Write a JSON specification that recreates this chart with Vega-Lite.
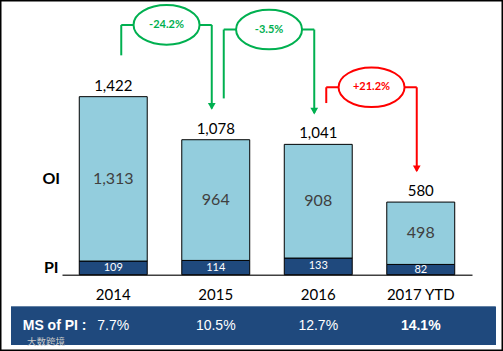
{
  "$schema": "https://vega.github.io/schema/vega-lite/v6.json",
  "width": 503,
  "height": 351,
  "autosize": "none",
  "padding": 0,
  "background": "white",
  "config": {"view": {"stroke": "#000000", "strokeWidth": 3}, "font": "Lato"},
  "title": {"text": "大数跨境", "orient": "bottom", "anchor": "start", "offset": -14, "dx": 27, "font": "Noto Sans CJK SC", "fontSize": 9.5, "fontWeight": "normal", "color": "#c8c8c8"},
  "datasets": {
    "years": [
      {"year": "2014", "PI": 109, "OI": 1313, "total": 1422, "ms": 0.077},
      {"year": "2015", "PI": 114, "OI": 964, "total": 1078, "ms": 0.105},
      {"year": "2016", "PI": 133, "OI": 908, "total": 1041, "ms": 0.127},
      {"year": "2017 YTD", "PI": 82, "OI": 498, "total": 580, "ms": 0.141}
    ],
    "changes": [
      {"from": "2014", "to": "2015", "change": "-24.2%"},
      {"from": "2015", "to": "2016", "change": "-3.5%"},
      {"from": "2016", "to": "2017 YTD", "change": "+21.2%"}
    ]
  },
  "layer": [
    {
      "data": {"name": "years"},
      "transform": [
        {"fold": ["PI", "OI"], "as": ["series", "value"]},
        {"calculate": "datum.series === 'PI' ? 0 : 1", "as": "ord"},
        {"stack": "value", "groupby": ["year"], "sort": [{"field": "ord", "order": "ascending"}], "as": ["v0", "v1"]},
        {"calculate": "(datum.v0 + datum.v1) / 2", "as": "mid"}
      ],
      "encoding": {
        "x": {"field": "year", "type": "nominal", "scale": {"range": [62, 472], "paddingInner": 0.337, "paddingOuter": 0.1685},
          "axis": {"orient": "bottom", "offset": -76.3, "title": null, "ticks": false, "domainColor": "#404040", "domainWidth": 1.5, "labelFont": "Lato", "labelFontSize": 15, "labelColor": "#000000", "labelPadding": 13, "labelAngle": 0}}
      },
      "layer": [
        {
          "mark": {"type": "bar", "stroke": "#000000", "strokeWidth": 1},
          "encoding": {
            "y": {"field": "v1", "type": "quantitative", "scale": {"domain": [0, 2194], "range": [274.7, 0], "nice": false, "zero": false}, "axis": null},
            "y2": {"field": "v0"},
            "color": {"field": "series", "type": "nominal", "scale": {"domain": ["PI", "OI"], "range": ["#1F497D", "#93CDDD"]}, "legend": null}
          }
        },
        {
          "transform": [{"filter": "datum.series === 'OI'"}],
          "mark": {"type": "text", "fontSize": 16, "color": "#404040"},
          "encoding": {
            "y": {"field": "mid", "type": "quantitative", "scale": {"domain": [0, 2194], "range": [274.7, 0], "nice": false, "zero": false}, "axis": null},
            "text": {"field": "value", "type": "quantitative", "format": ","}
          }
        },
        {
          "transform": [{"filter": "datum.series === 'PI'"}],
          "mark": {"type": "text", "fontSize": 11, "color": "#ffffff"},
          "encoding": {
            "y": {"field": "mid", "type": "quantitative", "scale": {"domain": [0, 2194], "range": [274.7, 0], "nice": false, "zero": false}, "axis": null},
            "text": {"field": "value", "type": "quantitative", "format": ","}
          }
        },
        {
          "transform": [{"filter": "datum.series === 'OI'"}],
          "mark": {"type": "text", "fontSize": 15, "color": "#000000", "baseline": "bottom", "dy": -3},
          "encoding": {
            "y": {"field": "v1", "type": "quantitative", "scale": {"domain": [0, 2194], "range": [274.7, 0], "nice": false, "zero": false}, "axis": null},
            "text": {"field": "total", "type": "quantitative", "format": ","}
          }
        },
        {
          "transform": [{"filter": "datum.year === '2014'"}],
          "mark": {"type": "text", "fontSize": 16, "fontWeight": "bold", "color": "#000000", "dx": -62},
          "encoding": {
            "y": {"field": "mid", "type": "quantitative", "scale": {"domain": [0, 2194], "range": [274.7, 0], "nice": false, "zero": false}, "axis": null},
            "text": {"field": "series"}
          }
        }
      ]
    },
    {
      "data": {"name": "changes"},
      "transform": [
        {"lookup": "from", "from": {"data": {"name": "years"}, "key": "year", "fields": ["total"]}, "as": ["t_from"]},
        {"lookup": "to", "from": {"data": {"name": "years"}, "key": "year", "fields": ["total"]}, "as": ["t_to"]},
        {"calculate": "datum.t_from + 330", "as": "y_start"},
        {"calculate": "datum.t_to + 917", "as": "level"},
        {"calculate": "datum.t_to + 250", "as": "y_end"},
        {"calculate": "indexof(datum.change, '+') === 0 ? 'rise' : 'fall'", "as": "dir"}
      ],
      "encoding": {
        "color": {"field": "dir", "type": "nominal", "scale": {"domain": ["fall", "rise"], "range": ["#00B050", "#FF0000"]}, "legend": null}
      },
      "layer": [
        {
          "mark": {"type": "rule", "strokeWidth": 2, "xOffset": 8},
          "encoding": {
            "x": {"field": "from", "type": "nominal", "scale": {"domain": ["2014", "2015", "2016", "2017 YTD"], "range": [62, 472], "paddingInner": 0.337, "paddingOuter": 0.1685}, "axis": null},
            "y": {"field": "y_start", "type": "quantitative", "scale": {"domain": [0, 2194], "range": [274.7, 0], "nice": false, "zero": false}, "axis": null},
            "y2": {"field": "level"}
          }
        },
        {
          "mark": {"type": "rule", "strokeWidth": 2, "xOffset": 8, "x2Offset": -4},
          "encoding": {
            "x": {"field": "from", "type": "nominal", "scale": {"domain": ["2014", "2015", "2016", "2017 YTD"], "range": [62, 472], "paddingInner": 0.337, "paddingOuter": 0.1685}, "axis": null},
            "x2": {"field": "to"},
            "y": {"field": "level", "type": "quantitative", "scale": {"domain": [0, 2194], "range": [274.7, 0], "nice": false, "zero": false}, "axis": null}
          }
        },
        {
          "mark": {"type": "rule", "strokeWidth": 2, "xOffset": -4},
          "encoding": {
            "x": {"field": "to", "type": "nominal", "scale": {"domain": ["2014", "2015", "2016", "2017 YTD"], "range": [62, 472], "paddingInner": 0.337, "paddingOuter": 0.1685}, "axis": null},
            "y": {"field": "level", "type": "quantitative", "scale": {"domain": [0, 2194], "range": [274.7, 0], "nice": false, "zero": false}, "axis": null},
            "y2": {"field": "y_end"}
          }
        },
        {
          "mark": {"type": "point", "shape": "triangle-down", "filled": true, "size": 60, "opacity": 1, "xOffset": -4, "yOffset": -2},
          "encoding": {
            "x": {"field": "to", "type": "nominal", "scale": {"domain": ["2014", "2015", "2016", "2017 YTD"], "range": [62, 472], "paddingInner": 0.337, "paddingOuter": 0.1685}, "axis": null},
            "y": {"field": "y_end", "type": "quantitative", "scale": {"domain": [0, 2194], "range": [274.7, 0], "nice": false, "zero": false}, "axis": null}
          }
        },
        {
          "mark": {"type": "point", "shape": "M-1,0A1,0.6,0,1,0,1,0A1,0.6,0,1,0,-1,0Z", "size": 4356, "filled": false, "fill": "#ffffff", "strokeWidth": 2, "opacity": 1, "xOffset": 53.3},
          "encoding": {
            "x": {"field": "from", "type": "nominal", "scale": {"domain": ["2014", "2015", "2016", "2017 YTD"], "range": [62, 472], "paddingInner": 0.337, "paddingOuter": 0.1685}, "axis": null},
            "y": {"field": "level", "type": "quantitative", "scale": {"domain": [0, 2194], "range": [274.7, 0], "nice": false, "zero": false}, "axis": null}
          }
        },
        {
          "mark": {"type": "text", "fontSize": 11, "fontWeight": "bold", "xOffset": 53.3},
          "encoding": {
            "x": {"field": "from", "type": "nominal", "scale": {"domain": ["2014", "2015", "2016", "2017 YTD"], "range": [62, 472], "paddingInner": 0.337, "paddingOuter": 0.1685}, "axis": null},
            "y": {"field": "level", "type": "quantitative", "scale": {"domain": [0, 2194], "range": [274.7, 0], "nice": false, "zero": false}, "axis": null},
            "text": {"field": "change"}
          }
        }
      ]
    },
    {
      "data": {"name": "years"},
      "encoding": {
        "y": {"datum": "MS of PI :", "type": "nominal", "scale": {"range": [306.7, 345], "paddingInner": 0, "paddingOuter": 0},
          "axis": {"orient": "left", "offset": -86, "domain": false, "ticks": false, "grid": false, "labelPadding": 0, "labelColor": "#ffffff", "labelFont": "Liberation Sans", "labelFontSize": 14, "labelFontWeight": "bold", "title": null}}
      },
      "layer": [
        {
          "mark": {"type": "rect", "color": "#1F497D"},
          "encoding": {
            "x": {"datum": 0, "type": "quantitative", "scale": {"domain": [0, 1], "range": [11, 495.7], "nice": false, "zero": false}, "axis": null},
            "x2": {"datum": 1}
          }
        },
        {
          "encoding": {
            "x": {"field": "year", "type": "nominal", "scale": {"range": [62, 472], "paddingInner": 0.337, "paddingOuter": 0.1685}, "axis": null}
          },
          "layer": [
            {
              "transform": [{"filter": "datum.year !== '2017 YTD'"}],
              "mark": {"type": "text", "font": "Liberation Sans", "fontSize": 14, "color": "#ffffff"},
              "encoding": {"text": {"field": "ms", "type": "quantitative", "format": ".1%"}}
            },
            {
              "transform": [{"filter": "datum.year === '2017 YTD'"}],
              "mark": {"type": "text", "font": "Liberation Sans", "fontSize": 14, "fontWeight": "bold", "color": "#ffffff"},
              "encoding": {"text": {"field": "ms", "type": "quantitative", "format": ".1%"}}
            }
          ]
        }
      ],
      "resolve": {"scale": {"x": "independent"}}
    }
  ],
  "resolve": {"scale": {"x": "independent", "y": "independent", "color": "independent"}}
}
